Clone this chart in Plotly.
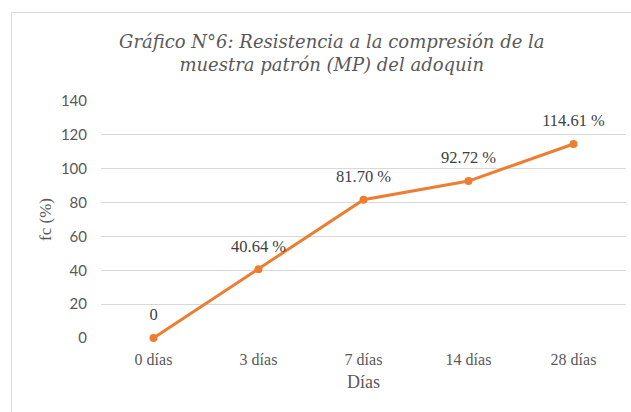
import plotly.graph_objects as go

categories = ["0 días", "3 días", "7 días", "14 días", "28 días"]
values = [0, 40.64, 81.70, 92.72, 114.61]
labels = ["0", "40.64 %", "81.70 %", "92.72 %", "114.61 %"]
y_ticks = [0, 20, 40, 60, 80, 100, 120, 140]

W, H = 631, 412
L, R, T, B = 101, 5, 101, 74
pw, ph = W - L - R, H - T - B

fig = go.Figure()
fig.add_trace(go.Scatter(
    x=categories, y=values, mode="lines+markers",
    line=dict(color="#ED7D31", width=3),
    marker=dict(color="#ED7D31", size=8),
    cliponaxis=False, showlegend=False, hoverinfo="skip",
))
# data labels (invisible larger markers to push labels up like the original)
fig.add_trace(go.Scatter(
    x=categories, y=values, mode="markers+text",
    text=labels, textposition="top center",
    textfont=dict(family="Liberation Serif", size=16.5, color="#404040"),
    marker=dict(color="rgba(0,0,0,0)", size=20),
    cliponaxis=False, showlegend=False, hoverinfo="skip",
))

def px_x(x):
    return (x - L) / pw

def px_y(y):
    return (H - B - y) / ph

fig.add_shape(type="rect", xref="paper", yref="paper",
              x0=px_x(11.5), x1=px_x(700), y0=px_y(12.5), y1=px_y(500),
              line=dict(color="#d9d9d9", width=1), fillcolor="rgba(0,0,0,0)")

fig.add_annotation(
    xref="paper", yref="paper", x=px_x(332), y=px_y(53), yanchor="middle",
    text="<i>Gráfico N°6: Resistencia a la compresión de la<br>muestra patrón (MP) del adoquin</i>",
    showarrow=False, align="center",
    font=dict(family="DejaVu Serif", size=18, color="#595959"),
)

fig.update_layout(
    width=W, height=H, margin=dict(l=L, r=R, t=T, b=B, autoexpand=False),
    paper_bgcolor="white", plot_bgcolor="white",
    xaxis=dict(
        type="category", range=[-0.5, 4.5], showgrid=False, zeroline=False,
        showline=False, ticks="", ticklabelstandoff=10, automargin=False,
        tickfont=dict(family="Liberation Serif", size=16, color="#595959"),
        title=dict(text="Días", standoff=8,
                   font=dict(family="Liberation Serif", size=18, color="#595959")),
    ),
    yaxis=dict(
        range=[0, 140], tickvals=y_ticks, showgrid=True, gridcolor="#d9d9d9",
        gridwidth=1, zeroline=False, showline=False, ticks="",
        ticklabelstandoff=13, automargin=False,
        tickfont=dict(family="Lato", size=15, color="#595959"),
        title=dict(text="fc (%)", standoff=4,
                   font=dict(family="Liberation Serif", size=17, color="#595959")),
    ),
)

fig.write_html("out.html", config={"displayModeBar": False},
               post_script="document.body.style.margin='0';")
